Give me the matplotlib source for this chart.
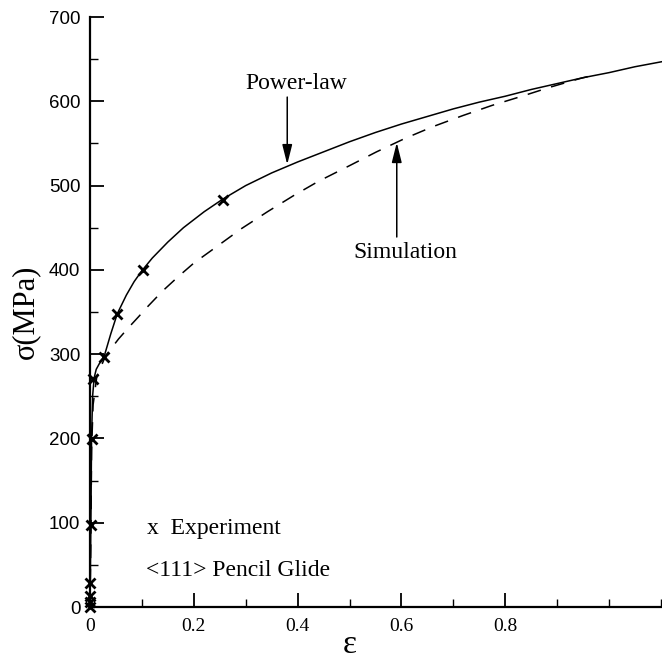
import matplotlib
matplotlib.use("Agg")
import matplotlib.pyplot as plt
from matplotlib.ticker import MultipleLocator

# ---- data ----
eps_powerlaw = [0.0, 0.002, 0.003, 0.005, 0.008, 0.012, 0.02, 0.0276, 0.04, 0.0526,
                0.07, 0.085, 0.1, 0.12, 0.15, 0.18, 0.22, 0.256, 0.3, 0.35,
                0.4, 0.45, 0.5, 0.55, 0.6, 0.65, 0.7, 0.75, 0.8, 0.85,
                0.9, 0.95, 1.0, 1.05, 1.102]
sig_powerlaw = [0, 120, 200, 250, 272, 282, 291, 298, 324, 348,
                370, 386, 399, 414, 433, 450, 469, 484, 500, 515,
                528, 540, 552, 563, 573, 582, 591, 599, 606, 614,
                621, 628, 634, 641, 647]

eps_sim = [0.0, 0.002, 0.003, 0.006, 0.013, 0.03, 0.055, 0.075, 0.093, 0.112,
           0.14, 0.17, 0.2, 0.245, 0.292, 0.342, 0.392, 0.44, 0.498, 0.552,
           0.607, 0.661, 0.718, 0.774, 0.832, 0.888, 0.944, 0.97]
sig_sim = [0, 100, 186, 240, 273, 298, 318, 332, 344, 357,
           375, 392, 408, 428, 449, 469, 488, 505, 523, 540,
           556, 570, 583, 595, 606, 617, 627, 631]

eps_exp = [0.0, 0.0, 0.0, 0.0, 0.002, 0.003, 0.005, 0.0276, 0.0526, 0.102, 0.256]
sig_exp = [0, 6, 13, 29, 97, 199, 270, 297, 348, 400, 483]

x_ticks = [0, 0.2, 0.4, 0.6, 0.8]
x_tick_labels = ["0", "0.2", "0.4", "0.6", "0.8"]
y_ticks = [0, 100, 200, 300, 400, 500, 600, 700]
y_tick_labels = ["0", "100", "200", "300", "400", "500", "600", "700"]

serif = ["Liberation Serif", "DejaVu Serif"]
sans = ["Liberation Sans", "DejaVu Sans"]

XMAX = 1.102

fig = plt.figure(figsize=(6.62, 6.65), dpi=100)
ax = fig.add_axes([90 / 662, 58 / 665, 1 - 90 / 662, (607 - 17) / 665])

ax.plot(eps_powerlaw, sig_powerlaw, color="black", lw=1.1, solid_joinstyle="round")
ax.plot(eps_sim, sig_sim, color="black", lw=1.1, linestyle=(0, (9, 7)))
ax.plot(eps_exp, sig_exp, linestyle="none", marker="x", color="black",
        markersize=6.5, markeredgewidth=2.0, clip_on=False)

ax.set_xlim(0, XMAX)
ax.set_ylim(0, 700)

for s in ["top", "right"]:
    ax.spines[s].set_visible(False)
for s in ["left", "bottom"]:
    ax.spines[s].set_linewidth(1.6)

ax.set_xticks(x_ticks)
ax.set_xticklabels(x_tick_labels, family=serif, fontsize=14)
ax.set_yticks(y_ticks)
ax.set_yticklabels(y_tick_labels, family=sans, fontsize=13.5)
ax.xaxis.set_minor_locator(MultipleLocator(0.1))
ax.yaxis.set_minor_locator(MultipleLocator(50))
ax.tick_params(which="major", direction="in", length=10, width=1.3)
ax.tick_params(which="minor", direction="in", length=6, width=1.0)
ax.tick_params(axis="y", which="major", pad=7)
ax.tick_params(axis="x", which="major", pad=8)

ax.set_xlabel("ε", family=serif, fontsize=24)
ax.xaxis.set_label_coords(0.5 / XMAX, -0.038)
ax.set_ylabel("σ(MPa)", family=serif, fontsize=22, labelpad=6)

ax.annotate("", xy=(0.38, 525), xytext=(0.38, 605),
            arrowprops=dict(arrowstyle="-|>,head_length=0.6,head_width=0.15",
                            color="black", lw=1.1, mutation_scale=20,
                            shrinkA=0, shrinkB=0))
ax.text(0.398, 621, "Power-law", family=serif, fontsize=17,
        ha="center", va="center")

ax.annotate("", xy=(0.591, 551), xytext=(0.591, 439),
            arrowprops=dict(arrowstyle="-|>,head_length=0.6,head_width=0.15",
                            color="black", lw=1.1, mutation_scale=20,
                            shrinkA=0, shrinkB=0))
ax.text(0.607, 420, "Simulation", family=serif, fontsize=17,
        ha="center", va="center")

ax.text(0.11, 93, "x  Experiment", family=serif, fontsize=17,
        ha="left", va="center")
ax.text(0.108, 43, "<111> Pencil Glide", family=serif, fontsize=17,
        ha="left", va="center")

fig.savefig("out.png", dpi=100)
